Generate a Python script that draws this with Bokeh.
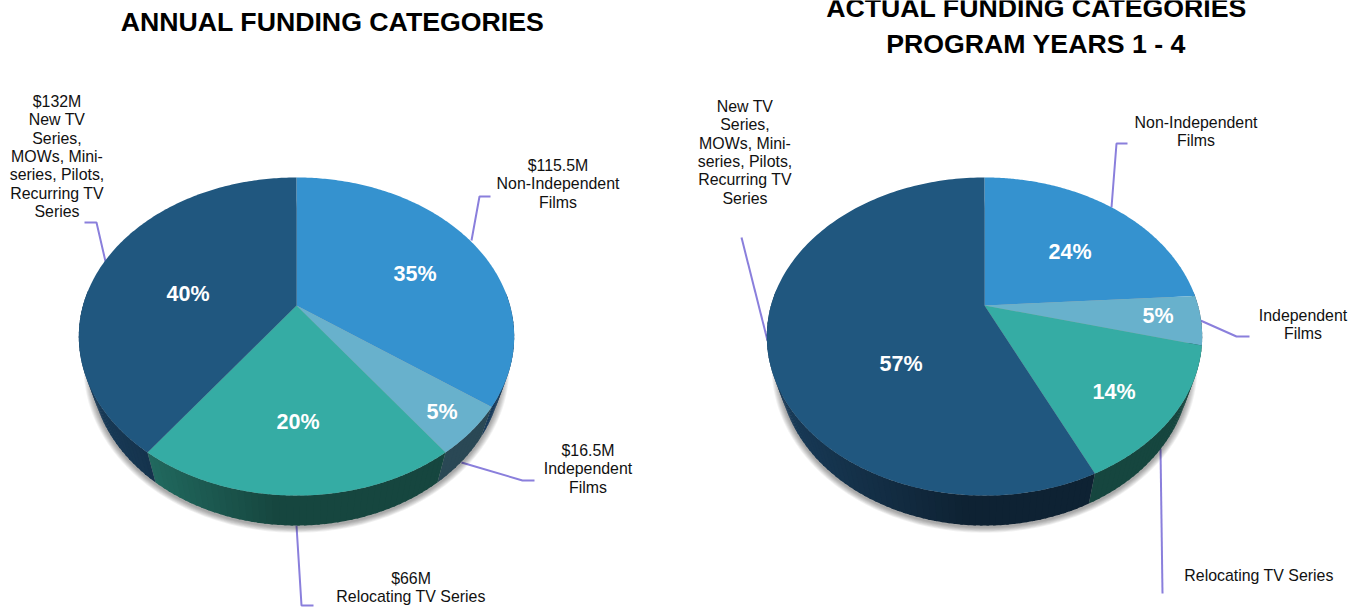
import numpy as np
from bokeh.plotting import figure
from bokeh.models import Range1d
from bokeh.core.properties import value
from bokeh.embed import file_html
from bokeh.resources import INLINE

categories = ["Non-Independent Films", "Independent Films", "Relocating TV Series", "New TV Series"]
annual_values = [35, 5, 20, 40]
actual_values = [24, 5, 14, 57]
top_colors = ["#3592CF", "#68B1CC", "#35ACA4", "#20577F"]
wall_colors = ["#15395A", "#2A4855", "#16463F", "#0E2233"]

annual_pct_pos = [(414.5, 273), (441.5, 411), (297.5, 421), (187.5, 293)]
actual_pct_pos = [(1069.5, 251), (1157.5, 315), (1113.5, 391), (900.5, 363)]

titles = [("ANNUAL FUNDING CATEGORIES", 332, 21),
          ("ACTUAL FUNDING CATEGORIES", 1036, 7),
          ("PROGRAM YEARS 1 - 4", 1035.5, 43)]

labels = [
    (56.5, 101, ["$132M", "New TV", "Series,", "MOWs, Mini-", "series, Pilots,", "Recurring TV", "Series"]),
    (557.5, 165, ["$115.5M", "Non-Independent", "Films"]),
    (587.5, 450, ["$16.5M", "Independent", "Films"]),
    (410.5, 578, ["$66M", "Relocating TV Series"]),
    (744.5, 106, ["New TV", "Series,", "MOWs, Mini-", "series, Pilots,", "Recurring TV", "Series"]),
    (1195.5, 121.5, ["Non-Independent", "Films"]),
    (1302.5, 315, ["Independent", "Films"]),
    (1258.5, 575, ["Relocating TV Series"]),
]

leaders = [
    ([84, 96, 105], [222, 222, 261]),
    ([490, 479, 471], [196, 196, 240]),
    ([461, 522, 534], [462, 480, 480]),
    ([296, 301, 313], [525, 605, 605]),
    ([741, 767], [237, 340]),
    ([1127, 1116, 1111], [143, 143, 207]),
    ([1200, 1236, 1249], [320, 336, 336]),
    ([1160, 1162], [448, 593]),
]

# perspective projection of the pie disc
K, A, C, DEPTH, SHRINK = 0.195, 153.0, 213.5, 30.0, 0.946
CY = 305.0


def project(cx, theta, lower=False, grow=0.0, dy=0.0):
    sx, cy_ = np.sin(theta), np.cos(theta)
    w = 1 + K * cy_
    xs, ys = C * sx / w, A * cy_ / w
    if lower:
        return cx + (SHRINK * xs) * (1 + grow / 206), CY - (ys - (-61)) * (1 + grow / 159) + 61 + DEPTH + dy - 0
    return cx + xs, CY - ys


p = figure(width=1364, height=608, output_backend="svg", toolbar_location=None,
           x_range=Range1d(0, 1364), y_range=Range1d(608, 0), min_border=0,
           outline_line_color=None)
p.xaxis.visible = False
p.yaxis.visible = False
p.xgrid.visible = False
p.ygrid.visible = False


def shade(hex_color, f):
    r, g, b = [int(hex_color[i:i + 2], 16) for i in (1, 3, 5)]
    return "#%02x%02x%02x" % tuple(min(255, int(round(v * f))) for v in (r, g, b))


for xs, ys in leaders:
    p.line(xs, ys, line_color="#8A7FDC", line_width=2)


def draw_pie(cx, vals, pct_pos):
    edges = np.cumsum([0] + list(vals)) / sum(vals) * 2 * np.pi
    circle = np.linspace(0, 2 * np.pi, 361)
    # soft shadow
    for g in (7, 6, 5, 4, 3, 2, 1):
        sx, sy = project(cx, circle, lower=True, grow=g, dy=1.5)
        p.patch(list(sx), list(sy), fill_color="#000000", fill_alpha=0.055, line_color=None)
    # side wall: only its front part shows
    qx, qy, qc = [], [], []
    for i in range(len(vals)):
        n = max(2, int((edges[i + 1] - edges[i]) / np.radians(1.5)))
        t = np.linspace(edges[i], edges[i + 1], n + 1)
        for a, b in zip(t[:-1], t[1:]):
            if np.cos((a + b) / 2) > 0.1:
                continue
            b2 = min(b + np.radians(0.6), edges[i + 1])
            x0, y0 = project(cx, a)
            x1, y1 = project(cx, b2)
            x2, y2 = project(cx, b2, lower=True)
            x3, y3 = project(cx, a, lower=True)
            xn = ((x0 + x1) / 2 - cx) / 218
            f = 1 + 0.85 * max(0.0, -xn - 0.1)
            qx.append([x0, x1, x2, x3])
            qy.append([y0, y1, y2, y3])
            qc.append(shade(wall_colors[i], f))
    p.patches(qx, qy, fill_color=qc, line_color=None)
    # top surface
    for i in range(len(vals)):
        t = np.linspace(edges[i], edges[i + 1], 180)
        ex, ey = project(cx, t)
        p.patch([cx] + list(ex), [CY] + list(ey), fill_color=top_colors[i], line_color=None)
    for v, (x, y) in zip(vals, pct_pos):
        p.text([x], [y], text=[f"{v}%"], text_color="#FFFFFF", text_font=value("Liberation Sans"),
               text_font_style="bold", text_font_size="21.5px", text_align="center", text_baseline="middle")


draw_pie(296.0, annual_values, annual_pct_pos)
draw_pie(984.0, actual_values, actual_pct_pos)

for t, x, y in titles:
    p.text([x], [y], text=[t], text_color="#000000", text_font=value("Liberation Sans"),
           text_font_style="bold", text_font_size="26.7px", text_align="center", text_baseline="middle")

for x, y, lines in labels:
    for i, line in enumerate(lines):
        p.text([x], [y + i * 18.3], text=[line], text_color="#111111", text_font=value("Liberation Sans"),
               text_font_size="15.9px", text_align="center", text_baseline="middle")

open("out.html", "w").write(file_html(p, INLINE))
